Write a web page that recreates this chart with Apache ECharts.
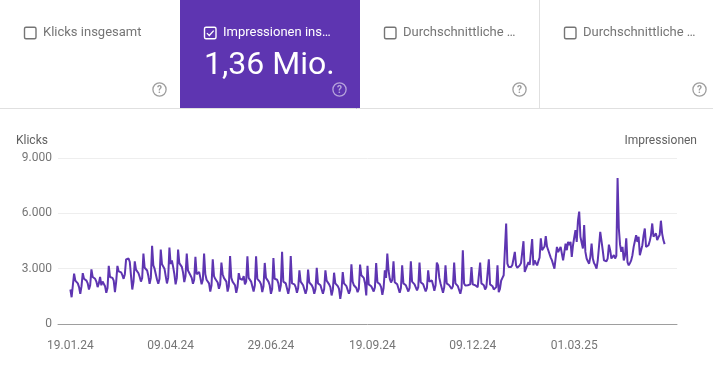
<!DOCTYPE html>
<html>
<head>
<meta charset="utf-8">
<script src="https://cdn.jsdelivr.net/npm/echarts@6/dist/echarts.min.js"></script>
<style>
html,body{margin:0;padding:0;background:#ffffff;}
#chart{width:713px;height:377px;}
</style>
</head>
<body>
<div id="chart"></div>
<script>
// ---- data (daily impressions) ----
const firstDate = [2024, 0, 19];          // 19.01.24 = first data day
const padDaysBefore = 10;                  // empty axis space before the first day
const padDaysAfter = 10;                   // empty axis space after the last day
const tickLabels = ['19.01.24', '09.04.24', '29.06.24', '19.09.24', '09.12.24', '01.03.25'];
const yMax = 9000, yStep = 3000;
const cardTitles = ['Klicks insgesamt', 'Impressionen ins\u2026', 'Durchschnittliche \u2026', 'Durchschnittliche \u2026'];
const cardValue = '1,36 Mio.';
const leftAxisName = 'Klicks';
const rightAxisName = 'Impressionen';

// 19 Jan – 5 May 2024
const imprJanMay24 = [
  1870,1450,2100,
  2730,2350,2250,2200,2000,1640,2050,
  2760,2450,2400,2350,2200,1870,2100,
  2960,2550,2500,2450,2300,2000,2200,
  2550,2100,2300,2200,2050,1690,1950,
  3150,2550,2600,2500,2350,1730,2300,
  3150,2850,2900,2800,2650,2450,2700,
  3500,3580,3550,3360,2600,1870,2300,
  3400,2950,2900,2750,2550,2300,2500,
  3820,3050,3000,2900,2600,2180,2500,
  4240,3180,3000,2700,2400,2180,2450,
  4040,3240,3300,3000,2600,2200,2500,
  4150,3250,3450,3100,2700,2150,2500,
  4040,3300,3250,3100,2800,2270,2600,
  3820,2900,2820,2640,2500,2180,2400,
  3640,2700,2650,2820,2500,2150,2400
];
// 6 May – 8 Sep 2024
const imprMaySep24 = [
  3820,2700,2400,2350,2200,1760,2100,
  3510,2600,2450,2450,2250,1910,2150,
  3330,2700,2500,2450,2300,1760,2050,
  3690,2500,2300,2270,2100,1690,2000,
  2760,2450,2500,2400,2600,2150,2300,
  3670,2500,2400,2300,2200,1760,2100,
  3670,2450,2350,2300,2150,1730,2050,
  3310,2500,2400,2300,2100,1640,1900,
  3580,2450,2450,2400,2200,1760,2100,
  3910,2300,2270,2200,2100,1640,2000,
  3690,2200,2180,2150,2000,1690,1950,
  2910,2300,2200,2100,2000,1640,1900,
  2950,2250,2200,2100,1950,1640,1900,
  3040,2200,2180,2100,2000,1640,1900,
  2910,2350,2250,2150,2000,1550,1850,
  2780,2200,2100,2050,1900,1360,1800,
  2820,2200,2150,2050,1950,1640,1850,
  3240,2300,2100,2050,1950,1730,1900
];
// 9 Sep – 30 Nov 2024
const imprSepNov24 = [
  3220,2640,2640,2500,2200,1550,
  3150,2150,2100,2050,2000,1760,2000,
  3310,2270,2200,2150,2000,1580,1950,
  2910,2500,3820,2900,2450,2250,2400,
  3400,2270,2200,2150,2050,1690,1950,
  3180,2200,2150,2100,2000,1760,1950,
  3400,2300,2200,2150,2050,1820,2000,
  3330,2270,2200,2150,2050,1760,1950,
  2910,2300,2270,2360,2100,1800,2100,
  3330,3180,2500,2200,2100,1690,2000,
  3180,2200,2100,2100,2090,1900,2050,
  3330,2200,2100,2050,2000,1640,1950
];
// 1 Dec 2024 – 13 May 2025
const imprDec24May25 = [
  4000,2200,2090,2000,2100,2050,2150,3090,2150,2130,
  2100,2000,2000,2100,3330,2200,2150,2100,1870,2000,
  2050,3510,2150,2090,2050,1870,1950,2000,3180,1730,
  1900,2360,2500,2640,2700,5450,3270,3090,3000,3090,
  3200,3300,3910,3180,3050,3000,3180,3300,3400,4490,
  2820,3000,3050,3360,3200,3300,4600,3180,3450,3300,
  3180,3400,3600,4640,4000,3900,4200,4760,4200,4000,
  4090,3600,3450,3360,3000,2910,4180,3900,3910,4180,
  4180,3450,3900,4360,4000,4450,4270,4450,3640,4270,
  4700,5090,4450,5600,6090,4730,4400,4090,5360,3910,
  3550,3400,3270,3640,4360,3550,3300,3180,3000,3450,
  4200,5000,4500,4000,3450,3360,3400,3550,4300,4000,
  3550,3600,3730,3550,3700,7910,5200,4300,3910,4180,
  3450,3700,4640,3360,3180,3300,3450,3730,4180,4500,
  4820,4450,4730,3730,4000,4270,4800,5180,4180,4180,
  4270,4500,4820,5450,4730,4800,4910,4550,4700,4820,
  5600,4900,4550,4330
];

// ---- build axis categories and series ----
const impressions = [].concat(imprJanMay24, imprMaySep24, imprSepNov24, imprDec24May25);
const pad2 = n => (n < 10 ? '0' : '') + n;
const dayMs = 86400000;
const t0 = Date.UTC(firstDate[0], firstDate[1], firstDate[2]);
const categories = [];
for (let i = -padDaysBefore; i < impressions.length + padDaysAfter; i++) {
  const d = new Date(t0 + i * dayMs);
  categories.push(pad2(d.getUTCDate()) + '.' + pad2(d.getUTCMonth() + 1) + '.' + String(d.getUTCFullYear()).slice(2));
}
const seriesData = new Array(padDaysBefore).fill(null).concat(impressions);

const deNum = v => String(v).replace(/\B(?=(\d{3})+(?!\d))/g, '.');

// ---- header cards (graphic) ----
const purple = '#5e35b1';
const grayText = '#757575';
function checkbox(x, y, color, checked) {
  const els = [{
    type: 'rect', shape: { x: x, y: y, width: 11.5, height: 11.5, r: 1.5 },
    style: { fill: 'none', stroke: color, lineWidth: 1.4 }
  }];
  if (checked) {
    els.push({
      type: 'polyline', shape: { points: [[x + 2.4, y + 5.9], [x + 4.8, y + 8.3], [x + 9.2, y + 3.4]] },
      style: { fill: 'none', stroke: color, lineWidth: 1.3 }
    });
  }
  return els;
}
function helpIcon(cx, cy, color) {
  return [
    { type: 'circle', shape: { cx: cx, cy: cy, r: 6.6 }, style: { fill: 'none', stroke: color, lineWidth: 1.3 } },
    { type: 'text', x: cx, y: cy + 0.5, style: { text: '?', fill: color, fontSize: 10, fontWeight: 'bold', fontFamily: 'Roboto', align: 'center', verticalAlign: 'middle' } }
  ];
}
const cardX = [0, 180, 360, 540];
const graphics = [];
graphics.push({ type: 'rect', shape: { x: 180, y: 0, width: 180, height: 109 }, style: { fill: purple } });
graphics.push({ type: 'line', shape: { x1: 0, y1: 108.5, x2: 713, y2: 108.5 }, style: { stroke: '#e0e0e0', lineWidth: 1 } });
graphics.push({ type: 'line', shape: { x1: 539.5, y1: 0, x2: 539.5, y2: 108 }, style: { stroke: '#e0e0e0', lineWidth: 1 } });
cardTitles.forEach((t, i) => {
  const sel = i === 1;
  const c = sel ? '#ffffff' : grayText;
  graphics.push(...checkbox(cardX[i] + 24.5, 27.2, c, sel));
  graphics.push({ type: 'text', x: cardX[i] + 43, y: 33, style: { text: t, fill: c, fontSize: 13, fontFamily: 'Roboto', verticalAlign: 'middle' } });
  graphics.push(...helpIcon(cardX[i] + 159.5, 89.5, sel ? 'rgba(255,255,255,0.55)' : '#9e9e9e'));
});
graphics.push({ type: 'text', x: 204, y: 66, style: { text: cardValue, fill: '#ffffff', fontSize: 32, fontFamily: 'Roboto', verticalAlign: 'middle' } });
graphics.push({ type: 'text', x: 16, y: 141, style: { text: leftAxisName, fill: '#616161', fontSize: 12, fontFamily: 'Roboto', verticalAlign: 'middle' } });
graphics.push({ type: 'text', x: 697, y: 141, style: { text: rightAxisName, fill: '#616161', fontSize: 12, fontFamily: 'Roboto', align: 'right', verticalAlign: 'middle' } });

const chart = echarts.init(document.getElementById('chart'), null, { renderer: 'canvas' });
chart.setOption({
  animation: false,
  textStyle: { fontFamily: 'Roboto' },
  grid: { left: 58, right: 36, top: 158, bottom: 53, containLabel: false, outerBoundsMode: 'none' },
  xAxis: {
    type: 'category',
    data: categories,
    boundaryGap: false,
    axisLine: { lineStyle: { color: '#9e9e9e', width: 1 } },
    axisTick: { show: false },
    splitLine: { show: false },
    axisLabel: {
      interval: (idx, val) => tickLabels.indexOf(val) >= 0,
      color: grayText, fontSize: 12, margin: 16, fontFamily: 'Roboto'
    }
  },
  yAxis: {
    type: 'value', min: 0, max: yMax, interval: yStep,
    axisLine: { show: false }, axisTick: { show: false },
    axisLabel: { formatter: v => deNum(v), color: grayText, fontSize: 12, margin: 6, fontFamily: 'Roboto' },
    splitLine: { lineStyle: { color: '#eeeeee', width: 1 } }
  },
  series: [{
    type: 'line',
    name: rightAxisName,
    data: seriesData,
    showSymbol: false,
    symbol: 'none',
    lineStyle: { color: purple, width: 2 },
    itemStyle: { color: purple }
  }],
  graphic: { elements: graphics }
});
</script>
</body>
</html>
